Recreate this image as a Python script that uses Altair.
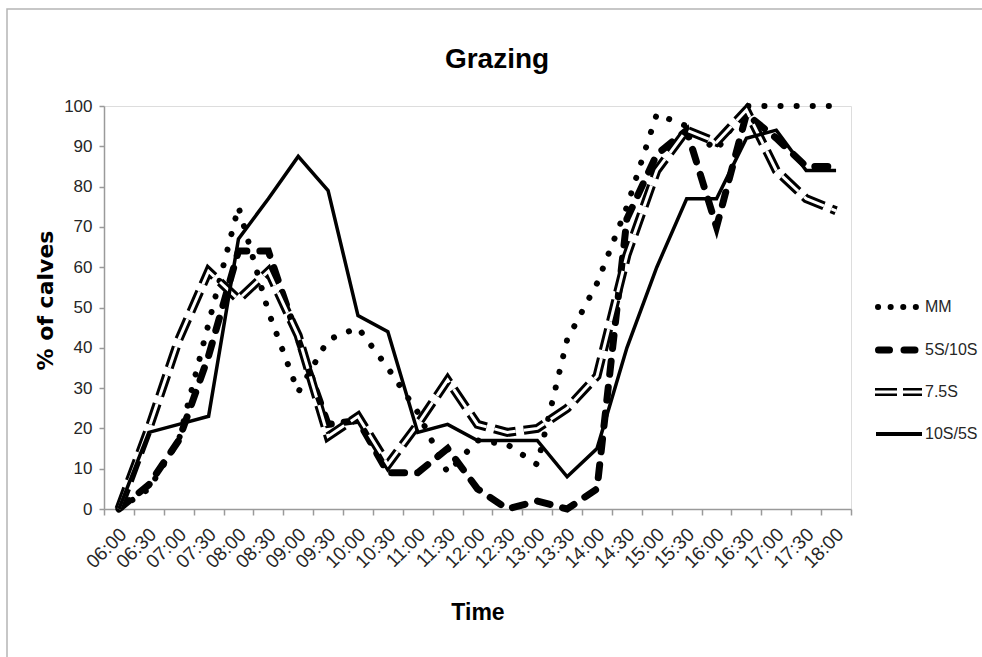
import altair as alt
import pandas as pd

# ---------------- data ----------------
times = ["06:00", "06:30", "07:00", "07:30", "08:00", "08:30", "09:00", "09:30",
         "10:00", "10:30", "11:00", "11:30", "12:00", "12:30", "13:00", "13:30",
         "14:00", "14:30", "15:00", "15:30", "16:00", "16:30", "17:00", "17:30", "18:00"]
series_names = ["MM", "5S/10S", "7.5S", "10S/5S"]
mm_values = [0, 5, 17, 46, 75, 49, 29, 42, 45, 35, 24, 9, 17, 16, 11, 42, 56, 75,
             98, 95, 89, 100, 100, 100, 100]
s5_10_values = [0, 6, 17, 38, 64, 64, 42, 21, 22, 9, 9, 15, 5, 0, 2, 0, 5, 72,
                88, 94, 70, 98, 92, 85, 85]
s7_5_values = [0, 20, 42, 59, 52, 59, 43, 18, 23, 11, 21, 32, 21, 19, 20, 25, 33, 63,
               84, 94, 91, 99, 84, 77, 74]
s10_5_values = [0, 19, 21, 23, 67, 77, 87.5, 79, 48, 44, 19, 21, 17, 17, 17, 8, 15, 40,
                60, 77, 77, 92, 94, 84, 84]
y_ticks = list(range(0, 101, 10))
chart_title = "Grazing"

rows = []
for name, vals in zip(series_names, [mm_values, s5_10_values, s7_5_values, s10_5_values]):
    for t, v in zip(times, vals):
        rows.append({"time": t, "series": name, "value": v})
df = pd.DataFrame(rows)

# ---------------- styling ----------------
SANS = "Liberation Sans, Arial, sans-serif"
WIDE = "DejaVu Sans, Verdana, sans-serif"
AXIS_GRAY = "#9a9a9a"
TEXT = "#262626"

W, H = 747, 403

x_enc = alt.X(
    "time:O",
    bandPosition=0.5,
    scale=alt.Scale(type="band", domain=times, paddingInner=0, paddingOuter=0),
    axis=alt.Axis(
        title="Time", tickBand="extent", labelAngle=-45, labelAlign="right",
        labelBaseline="middle", labelFont=SANS, labelFontSize=19, labelColor=TEXT,
        labelPadding=16, labelOffset=4, labelOverlap=False,
        tickSize=6, tickColor=AXIS_GRAY, tickWidth=1.5,
        domainColor=AXIS_GRAY, domainWidth=1.5, grid=False,
        titleFont=SANS, titleFontSize=23, titleFontWeight="bold", titleColor="black",
        titleY=103, titleBaseline="middle",
    ),
)
y_enc = alt.Y(
    "value:Q",
    scale=alt.Scale(domain=[0, 100], nice=False),
    axis=alt.Axis(
        title="% of calves", values=y_ticks, grid=False,
        tickSize=5, tickColor=AXIS_GRAY, tickWidth=1.5,
        domainColor=AXIS_GRAY, domainWidth=1.5,
        labelFont=SANS, labelFontSize=17, labelColor=TEXT, labelPadding=7,
        titleFont=WIDE, titleFontSize=22, titleFontWeight="bold", titleColor="black",
        titleAngle=270, titleX=-52, titleY=194, titleAlign="center",
        titleBaseline="alphabetic",
    ),
)

base = alt.Chart(df)


def series_line(name, color="black", **kw):
    return base.transform_filter(alt.datum.series == name).mark_line(
        color=color, **kw).encode(x=x_enc, y=y_enc)


mm_line = series_line("MM", strokeWidth=6, strokeDash=[0.1, 16], strokeCap="round")
s510_line = series_line("5S/10S", strokeWidth=7, strokeDash=[13, 13], strokeCap="round")
s75_outer = series_line("7.5S", strokeWidth=9, strokeDash=[22, 8])
s75_inner = series_line("7.5S", color="white", strokeWidth=3, strokeDash=[22, 8])
s105_line = series_line("10S/5S", strokeWidth=3.5)

one = pd.DataFrame({"k": [0]})

# outer frame (left / top edges visible)
frame = alt.Chart(one).mark_rect(filled=False, stroke="#b5b5b5", strokeWidth=1.5).encode(
    x=alt.value(-97), x2=alt.value(W + 200), y=alt.value(-97), y2=alt.value(H + 200))

# chart title as text, centred over the frame
title_layer = alt.Chart(one).mark_text(
    align="center", baseline="alphabetic", font=SANS, fontSize=28, fontWeight="bold",
    color="black").encode(x=alt.value(393), y=alt.value(-38), text=alt.value(chart_title))

# ---------------- legend (hand-built, right side) ----------------
leg_y = [201, 244, 286, 328]   # relative to plot origin
label_x = 821


def leg_rule(y, x0, x1, **kw):
    return alt.Chart(one).mark_rule(**kw).encode(
        x=alt.value(x0), x2=alt.value(x1), y=alt.value(y))


legend_layers = [
    leg_rule(leg_y[0], 774, 813, color="black", strokeWidth=6, strokeDash=[0.1, 12.5],
             strokeCap="round"),
    leg_rule(leg_y[1], 774.5, 811.5, color="black", strokeWidth=7, strokeDash=[11, 14.5],
             strokeCap="round"),
    leg_rule(leg_y[2], 771, 818, color="black", strokeWidth=8, strokeDash=[22, 6]),
    leg_rule(leg_y[2], 771, 818, color="white", strokeWidth=3, strokeDash=[22, 6]),
    leg_rule(leg_y[3], 772, 818, color="black", strokeWidth=4),
]
for name, y in zip(series_names, leg_y):
    legend_layers.append(
        alt.Chart(one).mark_text(align="left", baseline="middle", font=SANS,
                                 fontSize=16, color=TEXT).encode(
            x=alt.value(label_x), y=alt.value(y), text=alt.value(name)))

chart = alt.layer(
    frame, title_layer, mm_line, s510_line, s75_outer, s75_inner, s105_line, *legend_layers
).properties(
    width=W, height=H,
    autosize=alt.AutoSizeParams(type="none"),
    padding={"left": 104, "top": 106, "right": 131, "bottom": 148},
).configure_view(strokeWidth=0).configure(background="white")

chart.save("out.html", embed_options={"renderer": "svg", "actions": False})
